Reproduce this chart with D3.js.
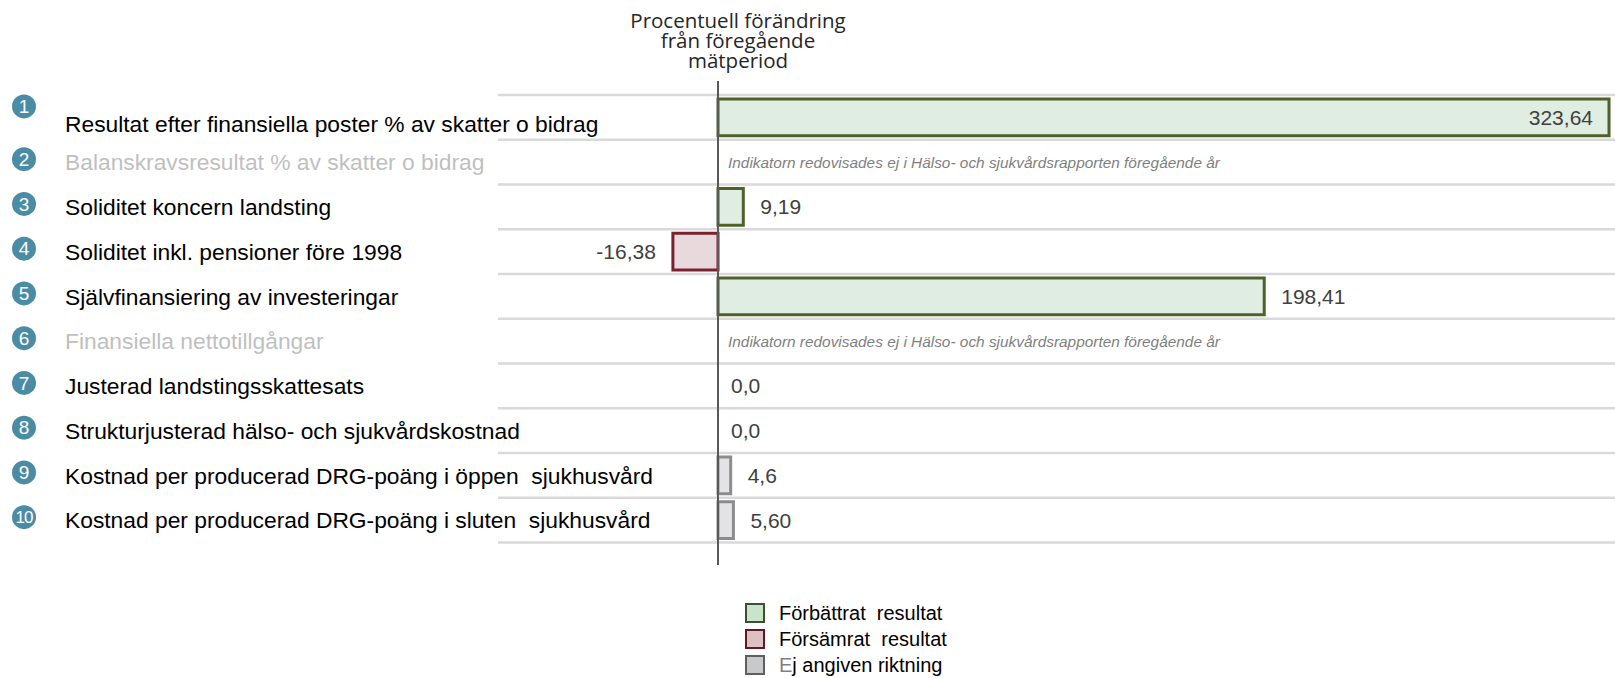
<!DOCTYPE html>
<html lang="sv">
<head>
<meta charset="utf-8">
<script src="https://cdn.jsdelivr.net/npm/d3@7"></script>
<style>
  html, body { margin: 0; padding: 0; background: #fff; }
  svg { display: block; }
</style>
</head>
<body>
<script>
// Indikatorer och procentuell förändring från föregående mätperiod
const indicators = [
  "Resultat efter finansiella poster % av skatter o bidrag",
  "Balanskravsresultat % av skatter o bidrag",
  "Soliditet koncern landsting",
  "Soliditet inkl. pensioner före 1998",
  "Självfinansiering av investeringar",
  "Finansiella nettotillgångar",
  "Justerad landstingsskattesats",
  "Strukturjusterad hälso- och sjukvårdskostnad",
  "Kostnad per producerad DRG-poäng i öppen  sjukhusvård",
  "Kostnad per producerad DRG-poäng i sluten  sjukhusvård"
];
// null = indikatorn redovisades inte föregående år
const changes = [323.64, null, 9.19, -16.38, 198.41, null, 0.0, 0.0, 4.6, 5.60];
const changeLabels = ["323,64", null, "9,19", "-16,38", "198,41", null, "0,0", "0,0", "4,6", "5,60"];
const direction = ["better", "na", "better", "worse", "better", "na", "none", "none", "none", "none"];
const titleLines = ["Procentuell förändring", "från föregående", "mätperiod"];
const missingNote = "Indikatorn redovisades ej i Hälso- och sjukvårdsrapporten föregående år";
const legendKeys = ["better", "worse", "none"];
const legendLabels = ["Förbättrat  resultat", "Försämrat  resultat", "Ej angiven riktning"];

const W = 1615, H = 678;
const barStyle = {
  better: { fill: "#e0ede3", stroke: "#4d6129" },
  worse:  { fill: "#e7d9dc", stroke: "#7a2130" },
  none:   { fill: "#e3e3e5", stroke: "#8c8c8c" }
};
const legendStyle = {
  better: { fill: "#c7e5cb", stroke: "#3e4e30" },
  worse:  { fill: "#dbc0c5", stroke: "#5e1c22" },
  none:   { fill: "#c8c9cb", stroke: "#5f5f5f" }
};

const svg = d3.select("body").append("svg")
  .attr("width", W).attr("height", H);

const ids = indicators.map((d, i) => i);
const y = d3.scaleBand().domain(ids).range([95, 542.5]).padding(0);
const x = d3.scaleLinear().domain([0, d3.max(changes)]).range([718, 1609]);
const mid = i => y(i) + y.bandwidth() / 2;

// Radlinjer
svg.append("g").selectAll("line")
  .data(d3.range(ids.length + 1))
  .join("line")
  .attr("x1", 498).attr("x2", W)
  .attr("y1", i => 95 + i * y.bandwidth())
  .attr("y2", i => 95 + i * y.bandwidth())
  .attr("stroke", "#d9d9d9").attr("stroke-width", 2.5);

// Nummercirklar (första raden har sin bricka högre upp och texten lägre ned)
const badges = svg.append("g").selectAll("g")
  .data(ids).join("g")
  .attr("transform", i => `translate(24,${mid(i) - (i === 0 ? 11 : 3)})`);
badges.append("circle").attr("r", 12).attr("fill", "#4b8ca5");
badges.append("text")
  .attr("text-anchor", "middle").attr("dy", "0.36em")
  .attr("fill", "#fff")
  .attr("font-family", "'Liberation Sans Narrow', 'Liberation Sans', Arial, sans-serif")
  .attr("font-size", i => i === 9 ? 17 : 19)
  .attr("letter-spacing", i => i === 9 ? -1 : 0)
  .text(i => i + 1);

// Indikatornamn
svg.append("g").selectAll("text")
  .data(ids).join("text")
  .attr("x", 65)
  .attr("y", i => mid(i) + (i === 0 ? 6 : 0))
  .attr("dy", "0.36em")
  .attr("font-family", "'Liberation Sans', Arial, sans-serif")
  .attr("font-size", 22.8)
  .attr("fill", i => changes[i] === null ? "#bfbfbf" : "#000")
  .attr("xml:space", "preserve")
  .style("white-space", "pre")
  .text(i => indicators[i]);

// Staplar
const pad = 4;
const barIds = ids.filter(i => changes[i] !== null && changes[i] !== 0);
svg.append("g").selectAll("rect")
  .data(barIds).join("rect")
  .attr("x", i => Math.min(x(0), x(changes[i])))
  .attr("width", i => Math.abs(x(changes[i]) - x(0)))
  .attr("y", i => y(i) + pad)
  .attr("height", y.bandwidth() - 2 * pad)
  .attr("fill", i => barStyle[direction[i]].fill)
  .attr("stroke", i => barStyle[direction[i]].stroke)
  .attr("stroke-width", 3);

// Värdeetiketter
const maxVal = d3.max(changes);
svg.append("g").selectAll("text")
  .data(ids.filter(i => changes[i] !== null)).join("text")
  .attr("x", i => {
    const v = changes[i];
    if (v === maxVal) return x(v) - 16;
    if (v < 0) return x(v) - 17;
    if (v === 0) return x(0) + 13;
    return x(v) + 17;
  })
  .attr("text-anchor", i => (changes[i] === maxVal || changes[i] < 0) ? "end" : "start")
  .attr("y", mid)
  .attr("dy", "0.36em")
  .attr("font-family", "'Liberation Sans', Arial, sans-serif")
  .attr("font-size", 21)
  .attr("fill", "#404040")
  .text(i => changeLabels[i]);

// Notering för indikatorer utan jämförelse
svg.append("g").selectAll("text")
  .data(ids.filter(i => changes[i] === null)).join("text")
  .attr("x", 728)
  .attr("y", mid)
  .attr("dy", "0.36em")
  .attr("font-family", "'Liberation Sans', Arial, sans-serif")
  .attr("font-style", "italic")
  .attr("font-size", 15.4)
  .attr("fill", "#7f7f7f")
  .text(missingNote);

// Nollinje
svg.append("line")
  .attr("x1", x(0)).attr("x2", x(0))
  .attr("y1", 81).attr("y2", 565)
  .attr("stroke", "#595959").attr("stroke-width", 2);

// Rubrik över nollinjen
svg.append("text")
  .attr("text-anchor", "middle")
  .attr("font-family", "'Open Sans', Lato, sans-serif")
  .attr("font-size", 20.5)
  .attr("fill", "#262626")
  .selectAll("tspan").data(titleLines).join("tspan")
  .attr("x", 738)
  .attr("y", (d, i) => 28 + i * 20)
  .text(d => d);

// Teckenförklaring
const legend = svg.append("g").selectAll("g")
  .data(legendKeys).join("g")
  .attr("transform", (d, i) => `translate(746,${604 + i * 26})`);
legend.append("rect")
  .attr("width", 18).attr("height", 18)
  .attr("fill", d => legendStyle[d].fill)
  .attr("stroke", d => legendStyle[d].stroke)
  .attr("stroke-width", 2);
const legendText = legend.append("text")
  .attr("x", 33).attr("y", 9).attr("dy", "0.36em")
  .attr("font-family", "'Liberation Sans', Arial, sans-serif")
  .attr("font-size", 20)
  .attr("fill", "#000")
  .attr("xml:space", "preserve")
  .style("white-space", "pre");
legendText.each(function(d, i) {
  const t = d3.select(this);
  const s = legendLabels[i];
  if (d === "none") {
    t.append("tspan").attr("fill", "#7f7f7f").text(s.slice(0, 1));
    t.append("tspan").text(s.slice(1));
  } else {
    t.text(s);
  }
});
</script>
</body>
</html>
